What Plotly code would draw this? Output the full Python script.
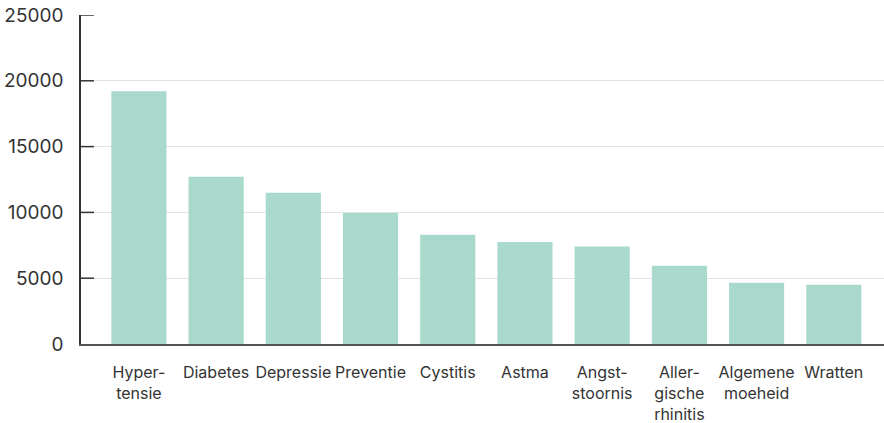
import plotly.graph_objects as go

categories = ["Hyper-<br>tensie", "Diabetes", "Depressie", "Preventie", "Cystitis",
              "Astma", "Angst-<br>stoornis", "Aller-<br>gische<br>rhinitis",
              "Algemene<br>moeheid", "Wratten"]
values = [19200, 12700, 11500, 9950, 8300, 7750, 7400, 5950, 4650, 4500]
y_ticks = [0, 5000, 10000, 15000, 20000, 25000]
y_tick_labels = ["0", "5000", "10000", "15000", "20000", "25000"]

fig = go.Figure(go.Bar(
    x=list(range(len(categories))), y=values,
    marker=dict(color="#a8d9cc", line=dict(width=0)),
    width=0.714,
))

# short dark tick marks on the inside of the y axis, one per tick value
for v in y_ticks[1:]:
    fig.add_shape(type="line", xref="paper", yref="y",
                  x0=0, x1=13 / 803, y0=v, y1=v,
                  line=dict(color="#333333", width=1.5), layer="above")

fig.update_layout(
    width=884, height=423,
    margin=dict(l=81, r=0, t=15, b=79, autoexpand=False),
    paper_bgcolor="white", plot_bgcolor="white",
    font=dict(family="Inter, Lato, sans-serif", size=16, color="#333333"),
    showlegend=False,
)
fig.update_xaxes(
    tickmode="array", tickvals=list(range(len(categories))), ticktext=categories,
    range=[-0.75, 9.65], tickangle=0, automargin=False,
    showline=True, linecolor="#555555", linewidth=1.5,
    showgrid=False, ticks="", tickfont=dict(size=16, color="#333333"),
    zeroline=False, ticklabelstandoff=13,
)
fig.update_yaxes(
    range=[0, 25000], tickmode="array", tickvals=y_ticks, ticktext=y_tick_labels,
    showline=True, linecolor="#333333", linewidth=1.5, automargin=False,
    showgrid=True, gridcolor="#e3e3e3", gridwidth=1,
    ticks="", tickfont=dict(size=19, color="#333333"),
    zeroline=False, ticklabelstandoff=12,
)

fig.write_html("out.html", config={"displayModeBar": False},
               post_script="document.body.style.margin='0';")
